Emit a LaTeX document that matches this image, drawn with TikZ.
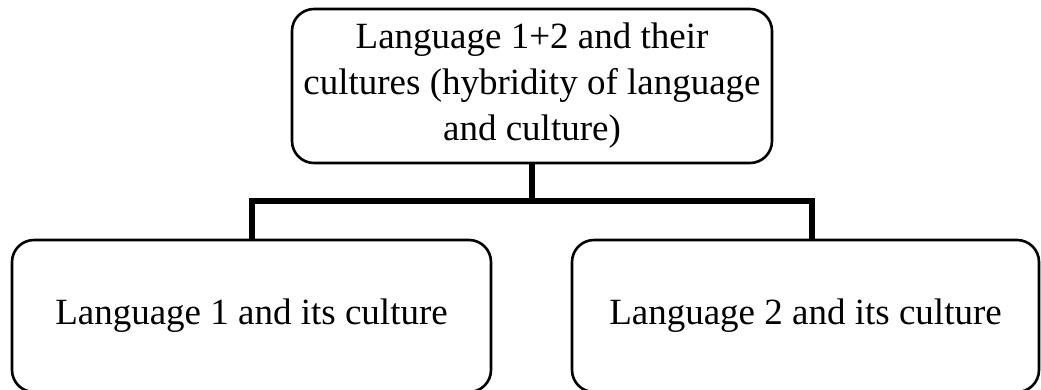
\documentclass[tikz,border=0pt]{standalone}
\usepackage{fontspec}
\setmainfont{Liberation Serif}
\begin{document}
\begin{tikzpicture}[x=1pt,y=-1pt,
  box/.style={draw=black, line width=2.6pt, rounded corners=22pt, inner sep=0pt, align=center,
    font=\fontsize{37}{46}\selectfont},
  conn/.style={draw=black, line width=5.5pt, line join=miter, line cap=butt}]
\useasboundingbox (0,0) rectangle (1041,389);
\clip (0,0) rectangle (1041,389);
\node[box, minimum width=480pt, minimum height=154pt] (top) at (532,86)
  {Language 1+2 and their\\cultures (hybridity of language\\and culture)};
\node[box, minimum width=479pt, minimum height=152pt] (L) at (251.5,316)
  {Language 1 and its culture};
\node[box, minimum width=467pt, minimum height=152pt] (R) at (805.5,316)
  {Language 2 and its culture};
\coordinate (barL) at (252,201);
\coordinate (barR) at (812,201);
\draw[conn] (top.south) -- (top.south |- barL);
\draw[conn] (L.north -| barL) |- (barR) -- (R.north -| barR);
\end{tikzpicture}
\end{document}
